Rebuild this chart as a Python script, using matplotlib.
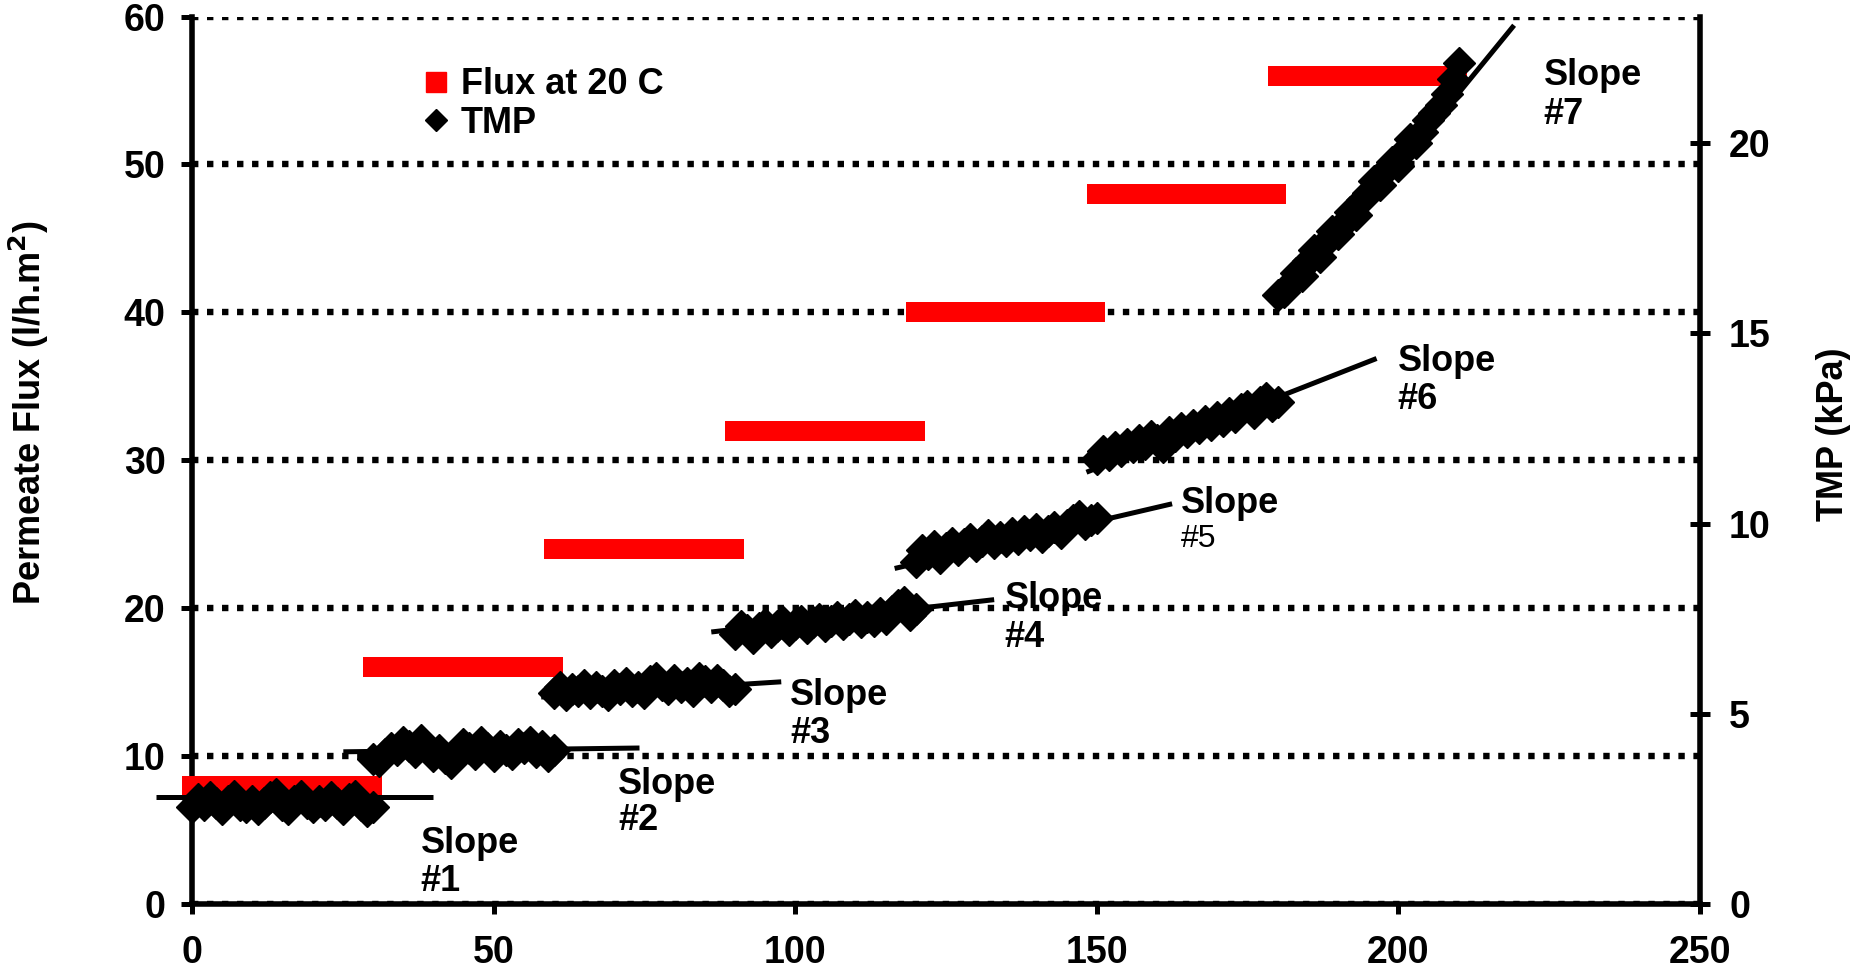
import numpy as np
import matplotlib
matplotlib.use("Agg")
from matplotlib import pyplot as plt
from matplotlib.lines import Line2D

plt.rcParams['font.family'] = ['Liberation Sans', 'DejaVu Sans']
plt.rcParams['font.weight'] = 'bold'

# Etapas de fluxo (l/h.m2)
etapa_inicio = [0, 30, 60, 90, 120, 150, 180]
etapa_fim = [29.8, 59.8, 89.8, 119.8, 149.8, 179.8, 209.8]
fluxo = [8, 16, 24, 32, 40, 48, 56]

# TMP (kPa), uma leitura por minuto em cada etapa
tmp_1 = [2.55, 2.75, 2.6, 2.8, 2.65, 2.5, 2.7, 2.85, 2.6, 2.55, 2.7, 2.5, 2.65, 2.8, 2.9, 2.6,
         2.5, 2.7, 2.85, 2.65, 2.55, 2.7, 2.6, 2.8, 2.65, 2.5, 2.75, 2.85, 2.6, 2.45, 2.55]
tmp_2 = [3.8, 3.75, 3.95, 4.1, 4.05, 4.25, 4.15, 4.0, 4.3, 4.1, 3.9, 4.05, 3.85, 3.7, 4.0, 4.2,
         4.1, 3.95, 4.25, 4.1, 3.9, 4.15, 4.05, 3.95, 4.2, 4.1, 4.25, 4.0, 4.15, 3.9, 4.05]
tmp_3 = [5.55, 5.7, 5.5, 5.65, 5.6, 5.75, 5.55, 5.7, 5.6, 5.5, 5.75, 5.65, 5.8, 5.6, 5.7, 5.55,
         5.85, 5.95, 5.75, 5.65, 5.9, 5.7, 5.8, 5.6, 5.95, 5.85, 5.7, 5.9, 5.75, 5.6, 5.65]
tmp_4 = [7.1, 7.3, 7.2, 7.0, 7.25, 7.35, 7.15, 7.3, 7.4, 7.2, 7.35, 7.45, 7.25, 7.4, 7.5, 7.3,
         7.45, 7.55, 7.35, 7.5, 7.6, 7.4, 7.55, 7.45, 7.65, 7.5, 7.7, 7.85, 7.95, 7.6, 7.75]
tmp_5 = [9.0, 9.3, 9.2, 9.4, 9.1, 9.35, 9.5, 9.3, 9.45, 9.6, 9.4, 9.55, 9.7, 9.5, 9.65, 9.55,
         9.75, 9.6, 9.8, 9.7, 9.85, 9.65, 9.8, 9.9, 9.75, 9.95, 10.1, 10.2, 10.0, 10.1, 10.15]
tmp_6 = [11.7, 11.9, 11.8, 12.0, 11.9, 12.1, 12.0, 12.2, 12.1, 12.3, 12.2, 12.0, 12.4, 12.3, 12.5, 12.4,
         12.6, 12.5, 12.7, 12.6, 12.8, 12.7, 12.9, 12.8, 13.0, 13.1, 12.9, 13.2, 13.3, 13.1, 13.2]
tmp_7 = [16.0, 16.1, 16.3, 16.6, 16.5, 16.9, 17.2, 17.0, 17.4, 17.7, 17.6, 17.9, 18.2, 18.1, 18.5, 18.7,
         19.0, 18.9, 19.3, 19.5, 19.4, 19.8, 20.1, 20.0, 20.3, 20.6, 20.8, 21.0, 21.3, 21.7, 22.1]
tmp_etapas = [tmp_1, tmp_2, tmp_3, tmp_4, tmp_5, tmp_6, tmp_7]

# Retas ajustadas (slopes): x inicial, x final, TMP inicial, TMP final
reta_x0 = [-6, 25.1, 57.9, 86.1, 116.5, 148.3, 181.4]
reta_x1 = [40, 74.2, 97.7, 133, 162.5, 196.4, 219.2]
reta_y0 = [2.8, 4.0, 5.44, 7.15, 8.82, 11.35, 15.77]
reta_y1 = [2.8, 4.1, 5.84, 8.0, 10.52, 14.34, 23.1]

# Rotulos "Slope #n" (posicao em unidades do eixo esquerdo)
rotulo_x = [37.9, 70.7, 99.2, 134.7, 163.9, 199.9, 224.1]
rotulo_y = [4.09, 8.09, 14.1, 20.67, 27.08, 36.69, 56.0]
rotulo_y2 = [1.52, 5.61, 11.54, 18.03, 24.67, 34.13, 53.36]

fig = plt.figure(figsize=(18.58, 9.72), dpi=100)
ax = fig.add_axes([0.1033, 0.070, 0.8116, 0.913])
ax2 = ax.twinx()

# Fluxo a 20 C
for s, e, f in zip(etapa_inicio, etapa_fim, fluxo):
    ax.plot([s, e], [f, f], color='#ff0000', lw=14.4, solid_capstyle='projecting',
            clip_on=False, zorder=3)

# TMP
for s, valores in zip(etapa_inicio, tmp_etapas):
    t = s + np.arange(len(valores))
    ax2.plot(t, valores, ls='none', marker='D', ms=16, color='black', mec='black',
             mew=1, clip_on=False, zorder=4)

for x0, x1, y0, y1 in zip(reta_x0, reta_x1, reta_y0, reta_y1):
    ax2.plot([x0, x1], [y0, y1], color='black', lw=3.6, solid_capstyle='butt',
             clip_on=False, zorder=5)

for i in range(7):
    ax.text(rotulo_x[i], rotulo_y[i], "Slope", fontsize=26, fontweight='bold',
            ha='left', va='center')
    peso = 'normal' if i == 4 else 'bold'
    tam = 23 if i == 4 else 26
    ax.text(rotulo_x[i], rotulo_y2[i], "#%d" % (i + 1), fontsize=tam, fontweight=peso,
            ha='left', va='center')

# eixos
ax.set_xlim(0, 250)
ax.set_ylim(0, 60)
ax2.set_ylim(0, 23.33)
ax.set_xticks([0, 50, 100, 150, 200, 250])
ax.set_yticks([0, 10, 20, 30, 40, 50, 60])
ax2.set_yticks([0, 5, 10, 15, 20])

ax.yaxis.grid(True, color='black', lw=4.6, ls=(0, (1, 1.35)))
ax.set_axisbelow(True)

for a in (ax, ax2):
    a.spines['top'].set_visible(False)
    for sp in a.spines.values():
        sp.set_linewidth(4)
ax.spines['right'].set_visible(False)
ax2.spines['left'].set_visible(False)
ax2.spines['bottom'].set_visible(False)

ax.tick_params(axis='x', direction='out', length=7, width=3.6, pad=15, labelsize=27)
ax.tick_params(axis='y', direction='out', length=8, width=3.6, pad=11, labelsize=27)
ax2.tick_params(axis='y', direction='inout', length=14, width=3.6, pad=14, labelsize=27)

ax.set_ylabel("Permeate Flux (l/h.m$^\\mathbf{2}$)", fontsize=26, fontweight='bold')
ax.yaxis.set_label_coords(-0.0935, 0.553)
ax2.set_ylabel("TMP (kPa)", fontsize=26, fontweight='bold', rotation=90)
ax2.yaxis.set_label_coords(1.077, 0.529)

leg_h = [Line2D([], [], ls='none', marker='s', ms=15, color='#ff0000'),
         Line2D([], [], ls='none', marker='D', ms=11, color='black')]
ax2.legend(leg_h, ["Flux at 20 C", "TMP"], loc='upper left', bbox_to_anchor=(0.14, 0.963),
           frameon=False, handlelength=0.8, handletextpad=0.3, labelspacing=0.1,
           borderpad=0, prop={'size': 26, 'weight': 'bold'})

fig.savefig("out.png", dpi=100)
